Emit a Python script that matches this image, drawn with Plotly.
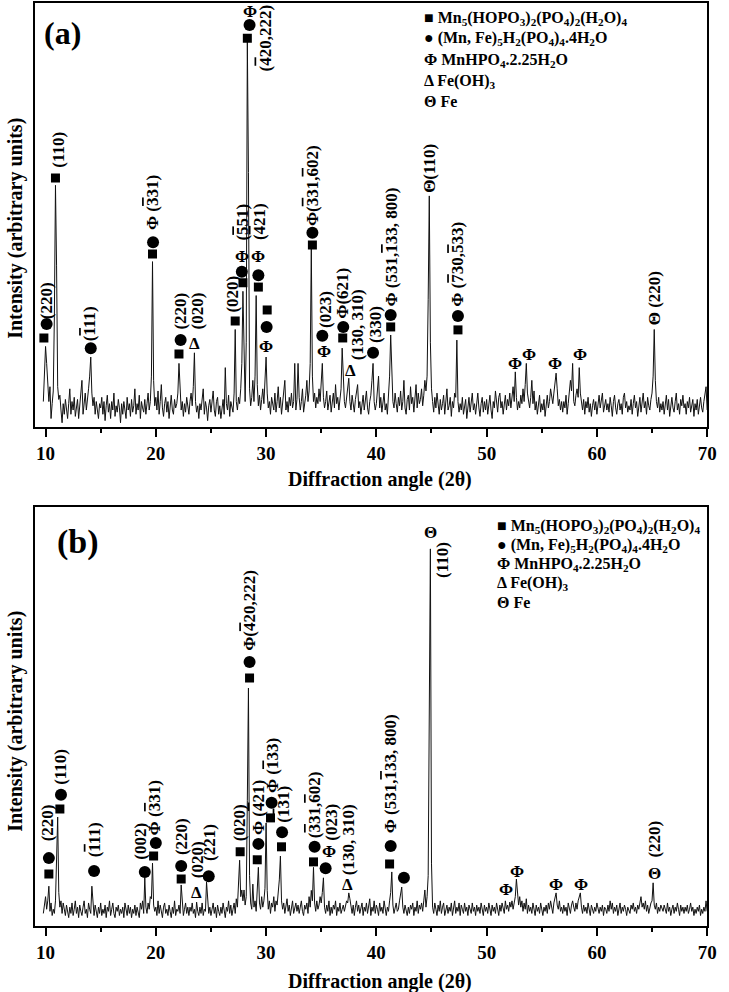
import numpy as np
import plotly.graph_objects as go

SERIF = "Liberation Serif"


def bar(d):
    # overlined digit for negative Miller indices
    return '<span style="text-decoration:overline">' + d + "</span>"


# 2-theta grid used for both patterns (9.8 .. 70.0, 0.1 deg step)
two_theta = np.round(np.arange(98, 701) / 10, 1)

# pattern (a), intensity (axis 0..1000)
int_a = [60, 110,
    190, 150, 110, 60, 95, 20, 55, 85, 260, 570,
    380, 95, 65, 75, 40, 10, 55, 30, 65, 40,
    20, 55, 90, 30, 60, 40, 70, 25, 50, 65,
    20, 45, 70, 110, 30, 55, 80, 40, 60, 90,
    120, 165, 80, 50, 70, 30, 60, 40, 20, 55,
    45, 70, 30, 60, 15, 50, 75, 35, 55, 20,
    60, 40, 80, 25, 50, 35, 65, 45, 10, 55,
    30, 60, 45, 20, 70, 40, 55, 25, 65, 35,
    50, 90, 30, 55, 40, 75, 20, 60, 45, 35,
    65, 30, 55, 80, 40, 60, 120, 390, 110, 50,
    70, 40, 85, 30, 60, 100, 45, 25, 55, 70,
    35, 60, 20, 50, 75, 40, 30, 65, 45, 55,
    80, 150, 100, 40, 60, 25, 55, 35, 70, 45,
    30, 60, 80, 50, 95, 175, 60, 35, 50, 20,
    55, 40, 70, 90, 30, 60, 45, 15, 50, 65,
    35, 55, 85, 40, 25, 60, 70, 30, 50, 20,
    45, 65, 30, 140, 55, 40, 75, 25, 60, 50,
    35, 80, 230, 60, 40, 70, 55, 90, 150, 320,
    150, 60, 200, 910, 600, 90, 50, 70, 110, 60,
    120, 310, 100, 50, 75, 40, 65, 90, 55, 100,
    165, 80, 45, 60, 30, 70, 55, 40, 80, 35,
    60, 95, 45, 70, 30, 55, 85, 110, 40, 60,
    35, 70, 50, 80, 45, 60, 150, 40, 65, 150,
    70, 40, 60, 90, 35, 55, 75, 110, 60, 85,
    150, 420, 120, 60, 80, 45, 70, 55, 90, 60,
    100, 150, 70, 45, 60, 85, 40, 55, 75, 35,
    60, 80, 45, 100, 55, 70, 40, 65, 90, 186,
    120, 60, 45, 70, 90, 115, 60, 40, 75, 50,
    35, 65, 80, 100, 45, 60, 30, 55, 75, 40,
    65, 85, 45, 30, 60, 75, 110, 150, 60, 40,
    55, 90, 120, 45, 70, 35, 60, 80, 40, 55,
    30, 65, 120, 217, 120, 60, 45, 80, 55, 35,
    70, 50, 85, 40, 60, 110, 45, 30, 65, 75,
    40, 95, 55, 70, 35, 60, 100, 45, 80, 55,
    65, 90, 50, 75, 110, 85, 120, 300, 545, 200,
    90, 60, 35, 70, 45, 80, 55, 30, 65, 40,
    55, 75, 30, 60, 90, 40, 50, 70, 25, 60,
    45, 80, 70, 205, 60, 35, 55, 40, 70, 30,
    50, 65, 20, 45, 70, 35, 60, 80, 40, 55,
    30, 60, 80, 45, 25, 55, 70, 35, 60, 40,
    65, 30, 55, 75, 40, 20, 60, 45, 85, 50,
    35, 70, 80, 45, 60, 30, 55, 75, 40, 65,
    50, 80, 45, 70, 95, 60, 130, 70, 40, 60,
    45, 75, 55, 90, 60, 100, 150, 80, 60, 45,
    70, 110, 55, 85, 40, 60, 30, 50, 75, 35,
    55, 40, 65, 25, 50, 75, 45, 60, 90, 70,
    55, 80, 100, 127, 90, 50, 65, 40, 60, 35,
    60, 45, 75, 30, 55, 80, 110, 85, 150, 60,
    50, 75, 90, 70, 140, 80, 55, 40, 65, 30,
    60, 45, 70, 35, 55, 25, 50, 65, 40, 60,
    30, 55, 75, 45, 60, 80, 35, 50, 65, 40,
    55, 35, 70, 50, 25, 60, 75, 45, 30, 55,
    65, 40, 55, 30, 70, 80, 45, 60, 35, 50,
    40, 65, 30, 55, 75, 45, 60, 25, 50, 70,
    35, 55, 80, 45, 60, 30, 70, 50, 40, 65,
    80, 120, 230, 110, 60, 45, 70, 35, 55, 40,
    60, 30, 55, 75, 40, 65, 25, 50, 70, 45,
    35, 60, 80, 40, 55, 30, 65, 50, 75, 45,
    55, 30, 60, 45, 70, 35, 50, 65, 25, 55,
    40, 65, 30, 55, 70, 45, 35, 60, 75, 95,
    40]

# pattern (b)
int_b = [30, 45,
    70, 40, 60, 95, 35, 55, 25, 40, 30, 60,
    150, 260, 80, 45, 60, 30, 55, 40, 25, 50,
    35, 20, 45, 30, 55, 25, 40, 60, 30, 45,
    20, 50, 35, 25, 45, 60, 30, 40, 20, 55,
    40, 30, 95, 45, 25, 50, 35, 20, 45, 30,
    55, 25, 40, 30, 50, 20, 45, 35, 60, 25,
    40, 55, 30, 20, 45, 35, 50, 25, 40, 30,
    45, 20, 55, 35, 25, 50, 30, 45, 20, 40,
    30, 50, 25, 45, 35, 20, 55, 40, 60, 30,
    115, 45, 30, 55, 40, 70, 65, 150, 50, 35,
    45, 25, 60, 30, 50, 35, 20, 45, 55, 30,
    40, 25, 50, 35, 20, 45, 30, 60, 25, 40,
    35, 50, 30, 98, 60, 25, 40, 55, 30, 45,
    25, 45, 35, 55, 30, 40, 20, 57, 35, 25,
    45, 30, 55, 25, 40, 35, 105, 50, 30, 45,
    25, 40, 55, 30, 45, 20, 50, 35, 25, 45,
    30, 55, 40, 20, 45, 35, 60, 30, 50, 25,
    40, 55, 30, 65, 45, 90, 157, 70, 86, 60,
    86, 50, 70, 300, 568, 120, 55, 40, 100, 45,
    60, 35, 80, 140, 55, 40, 70, 45, 60, 90,
    246, 85, 40, 60, 30, 55, 45, 70, 35, 60,
    50, 80, 110, 167, 60, 40, 55, 30, 45, 65,
    35, 50, 25, 45, 60, 30, 40, 55, 35, 50,
    30, 45, 60, 35, 25, 50, 40, 55, 30, 70,
    45, 85, 60, 140, 55, 35, 60, 40, 50, 70,
    55, 80, 115, 45, 30, 50, 35, 60, 25, 45,
    30, 50, 40, 60, 25, 45, 35, 55, 30, 40,
    50, 35, 45, 60, 55, 79, 65, 40, 30, 50,
    25, 45, 60, 35, 50, 30, 40, 55, 25, 45,
    35, 55, 30, 50, 65, 25, 45, 35, 60, 30,
    50, 40, 25, 55, 35, 45, 30, 60, 40, 25,
    45, 35, 60, 80, 129, 50, 30, 45, 55, 35,
    40, 60, 75, 93, 45, 30, 50, 35, 25, 45,
    30, 50, 40, 55, 25, 45, 35, 60, 30, 50,
    40, 55, 35, 60, 86, 45, 70, 120, 500, 900,
    150, 45, 30, 55, 40, 25, 50, 35, 60, 30,
    45, 55, 25, 40, 50, 30, 45, 35, 55, 25,
    40, 60, 30, 45, 35, 55, 25, 50, 40, 30,
    55, 35, 45, 25, 50, 40, 30, 55, 35, 45,
    25, 50, 35, 45, 30, 55, 40, 25, 50, 35,
    45, 30, 55, 40, 25, 50, 35, 45, 30, 55,
    40, 25, 50, 35, 55, 45, 30, 60, 40, 50,
    35, 57, 45, 60, 40, 55, 70, 112, 65, 50,
    70, 45, 60, 35, 55, 40, 65, 30, 50, 35,
    45, 30, 55, 40, 25, 50, 35, 45, 30, 55,
    40, 25, 45, 35, 50, 30, 55, 40, 60, 45,
    30, 55, 65, 79, 50, 40, 60, 35, 45, 30,
    50, 35, 45, 25, 55, 40, 30, 50, 60, 45,
    35, 55, 40, 60, 70, 79, 45, 30, 50, 35,
    45, 30, 55, 35, 25, 50, 40, 30, 45, 35,
    55, 40, 30, 45, 35, 50, 25, 45, 40, 30,
    50, 35, 60, 40, 55, 30, 45, 35, 50, 25,
    40, 55, 30, 45, 35, 50, 40, 25, 45, 35,
    30, 50, 40, 55, 35, 45, 30, 50, 40, 55,
    70, 45, 55, 40, 60, 35, 50, 30, 45, 55,
    60, 103, 50, 40, 55, 30, 45, 35, 50, 40,
    35, 50, 40, 30, 55, 35, 45, 25, 40, 50,
    30, 45, 35, 55, 40, 25, 50, 35, 45, 30,
    45, 35, 50, 30, 40, 55, 35, 45, 25, 40,
    30, 45, 35, 50, 25, 40, 30, 45, 35, 60,
    35]

x_ticks = [10, 20, 30, 40, 50, 60, 70]
x_tick_text = ["10", "20", "30", "40", "50", "60", "70"]
x_minor = [15, 25, 35, 45, 55, 65]

# phase markers, panel (a)
a_sq_x = [9.85, 10.9, 19.7, 22.1, 27.2, 27.9, 28.3, 29.3, 30.1, 34.2, 36.95, 41.3, 47.4]
a_sq_y = [210, 587, 408, 172, 250, 340, 917, 330, 276, 429, 210, 236, 229]
a_ci_x = [10.1, 14.1, 19.75, 22.25, 27.8, 28.5, 29.3, 30.05, 34.2, 35.1, 37.0, 39.7, 41.3, 47.4]
a_ci_y = [243, 186, 436, 205, 366, 948, 358, 236, 458, 215, 236, 175, 264, 262]
a_sym_x = [28.5, 27.8, 29.3, 30.0, 35.25, 23.5, 37.7, 52.6, 53.8, 56.2, 58.5]
a_sym_y = [979, 403, 401, 189, 177, 198, 134, 149, 172, 149, 172]
a_sym_t = ["Φ", "Φ", "Φ", "Φ", "Φ", "Δ", "Δ", "Φ", "Φ", "Φ", "Φ"]
a_lab_x = [10.1, 11.1, 14.0, 19.7, 22.2, 23.8, 27.0, 27.9, 29.4, 29.9, 34.2, 35.4,
           36.9, 38.3, 39.9, 41.4, 44.8, 47.4, 65.3]
a_lab_y = [250, 606, 198, 460, 224, 226, 264, 436, 436, 835, 469, 229,
           250, 153, 193, 280, 547, 280, 236]
a_lab_t = ["(220)", "(110)", "(" + bar("1") + "11)", "Φ (" + bar("3") + "31)", "(220)",
           "(020)", "(020)", "(" + bar("5") + "51)", "(" + bar("4") + "21)",
           "(" + bar("4") + "20,222)", "Φ(" + bar("3") + "31," + bar("6") + "02)", "(023)",
           "Φ(621)", "(130, 310)", "(330)", "Φ (531," + bar("1") + "33, 800)", "Θ(110)",
           "Φ (" + bar("7") + "30," + bar("5") + "33)", "Θ (220)"]

# phase markers, panel (b)
b_sq_x = [10.3, 11.3, 19.8, 22.3, 27.65, 28.5, 29.2, 30.4, 31.4, 34.3, 41.2]
b_sq_y = [124, 279, 167, 112, 177, 592, 158, 258, 189, 153, 148]
b_ci_x = [10.3, 11.4, 14.4, 19.0, 20.0, 22.3, 24.8, 29.3, 30.5, 31.45, 34.4, 35.4, 41.3, 42.5, 28.5]
b_ci_y = [162, 313, 131, 129, 198, 143, 119, 196, 294, 224, 189, 138, 191, 115, 630]
b_sym_x = [35.7, 23.7, 37.4, 44.9, 51.8, 52.8, 56.3, 58.6, 65.2]
b_sym_y = [177, 81, 98, 938, 86, 131, 100, 100, 126]
b_sym_t = ["Φ", "Δ", "Δ", "Θ", "Φ", "Φ", "Φ", "Φ", "Θ"]
b_lab_x = [10.2, 11.4, 14.4, 18.6, 19.9, 22.35, 23.8, 24.85, 27.6, 29.3, 30.6, 31.55,
           34.4, 35.9, 37.5, 41.3, 46.05, 65.2, 28.5]
b_lab_y = [198, 332, 158, 153, 212, 165, 110, 150, 198, 212, 313, 241,
           205, 198, 117, 217, 826, 158, 652]
b_lab_t = ["(220)", "(110)", "(" + bar("1") + "11)", "(002)", "Φ (" + bar("3") + "31)",
           "(220)", "(020)", "(221)", "(020)", "Φ (" + bar("4") + "21)",
           "Φ (" + bar("1") + "33)", "(" + bar("1") + "31)",
           "(" + bar("3") + "31," + bar("6") + "02)", "(023)", "(130, 310)",
           "Φ (531," + bar("1") + "33, 800)", "(110)", "(220)", "Φ(" + bar("4") + "20,222)"]

legend_lines = [
    "■ Mn<sub>5</sub>(HOPO<sub>3</sub>)<sub>2</sub>(PO<sub>4</sub>)<sub>2</sub>(H<sub>2</sub>O)<sub>4</sub>",
    "● (Mn, Fe)<sub>5</sub>H<sub>2</sub>(PO<sub>4</sub>)<sub>4</sub>.4H<sub>2</sub>O",
    "Φ MnHPO<sub>4</sub>.2.25H<sub>2</sub>O",
    "Δ Fe(OH)<sub>3</sub>",
    "Θ Fe",
]

fig = go.Figure()

panels = [
    ("x", "y", int_a, a_sq_x, a_sq_y, a_ci_x, a_ci_y, a_sym_x, a_sym_y, a_sym_t, a_lab_x, a_lab_y, a_lab_t),
    ("x2", "y2", int_b, b_sq_x, b_sq_y, b_ci_x, b_ci_y, b_sym_x, b_sym_y, b_sym_t, b_lab_x, b_lab_y, b_lab_t),
]

annotations = []
for xa, ya, inten, sqx, sqy, cix, ciy, symx, symy, symt, labx, laby, labt in panels:
    fig.add_trace(go.Scatter(x=two_theta, y=inten, mode="lines", xaxis=xa, yaxis=ya,
                             line=dict(color="#111111", width=1), showlegend=False, hoverinfo="skip"))
    fig.add_trace(go.Scatter(x=sqx, y=sqy, mode="markers", xaxis=xa, yaxis=ya,
                             marker=dict(symbol="square", size=9, color="black"), showlegend=False))
    fig.add_trace(go.Scatter(x=cix, y=ciy, mode="markers", xaxis=xa, yaxis=ya,
                             marker=dict(symbol="circle", size=12, color="black"), showlegend=False))
    for sx, sy, st in zip(symx, symy, symt):
        annotations.append(dict(x=sx, y=sy, xref=xa, yref=ya, text=st, showarrow=False,
                                font=dict(family=SERIF, size=17, color="black", weight="bold")))
    for lx, ly, lt in zip(labx, laby, labt):
        annotations.append(dict(x=lx, y=ly, xref=xa, yref=ya, text=lt, showarrow=False,
                                textangle=-90, xanchor="center", yanchor="bottom",
                                font=dict(family=SERIF, size=17, color="black", weight="bold")))

# legends
for lx, ly0, dy in [(0.587, 18, 21), (0.689, 526, 19)]:
    for j, t in enumerate(legend_lines):
        annotations.append(dict(x=lx, y=1 - (ly0 + j * dy) / 992, xref="paper", yref="paper",
                                text=t, showarrow=False, xanchor="left", yanchor="middle",
                                font=dict(family=SERIF, size=16, color="black", weight="bold")))

# panel letters, axis titles
for t, x, y, s in [("(a)", 63 / 729, 1 - 33 / 992, 32), ("(b)", 79 / 729, 1 - 542 / 992, 34)]:
    annotations.append(dict(x=x, y=y, xref="paper", yref="paper", text=t, showarrow=False,
                            xanchor="center", yanchor="middle",
                            font=dict(family=SERIF, size=s, color="black", weight="bold")))
for y in [1 - 479 / 992, 1 - 981 / 992]:
    annotations.append(dict(x=385 / 729, y=y, xref="paper", yref="paper", text="Diffraction angle (2θ)",
                            showarrow=False, xanchor="center", yanchor="middle",
                            font=dict(family=SERIF, size=20, color="black", weight="bold")))
for y in [1 - 228 / 992, 1 - 721 / 992]:
    annotations.append(dict(x=15 / 729, y=y, xref="paper", yref="paper", text="Intensity (arbitrary units)",
                            showarrow=False, textangle=-90, xanchor="center", yanchor="middle",
                            font=dict(family=SERIF, size=20, color="black", weight="bold")))

xdom = [35 / 729, 717 / 729]
xax = dict(range=[9, 70], domain=xdom, tickvals=x_ticks, ticktext=x_tick_text, ticks="outside",
           ticklen=8, tickwidth=2, tickcolor="black", showline=True, mirror=True, linewidth=2,
           linecolor="black", showgrid=False, zeroline=False,
           tickfont=dict(family=SERIF, size=19, color="black", weight="bold"),
           minor=dict(tickvals=x_minor, ticks="outside", ticklen=4, tickwidth=2, tickcolor="black"))
yax = dict(range=[0, 1000], showticklabels=False, ticks="", showline=True, mirror=True,
           linewidth=2, linecolor="black", showgrid=False, zeroline=False)

fig.update_layout(
    width=729, height=992,
    margin=dict(l=0, r=0, t=0, b=0),
    paper_bgcolor="white", plot_bgcolor="white",
    xaxis=dict(xax, anchor="y"),
    yaxis=dict(yax, domain=[1 - 427 / 992, 1 - 3 / 992], anchor="x"),
    xaxis2=dict(xax, anchor="y2"),
    yaxis2=dict(yax, domain=[1 - 926 / 992, 1 - 507 / 992], anchor="x2"),
    annotations=annotations,
    showlegend=False,
)

fig.write_html("out.html", config={"displayModeBar": False},
               post_script="document.body.style.margin='0';")
